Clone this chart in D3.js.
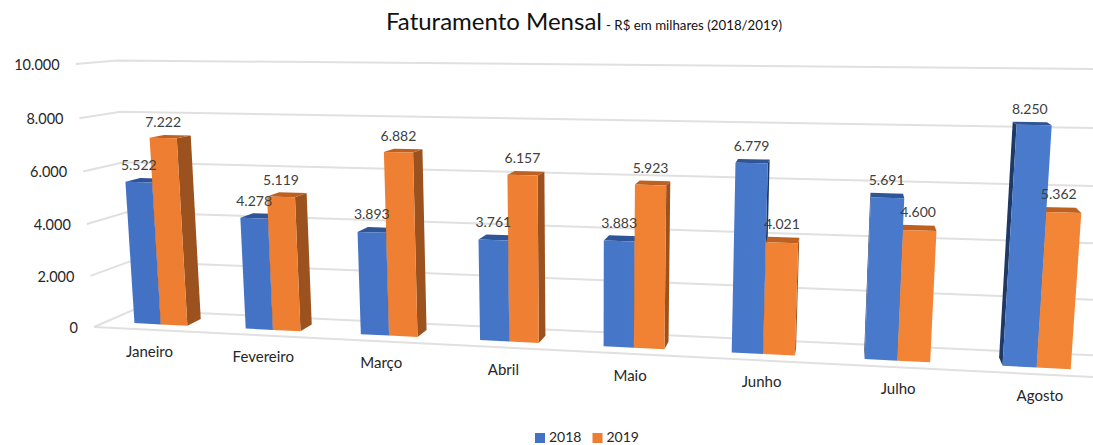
<!DOCTYPE html>
<html>
<head>
<meta charset="utf-8">
<script src="https://cdn.jsdelivr.net/npm/d3@7"></script>
<style>
    html, body { margin: 0; padding: 0; background: #fff; overflow: hidden; }
    svg { display: block; font-family: Lato, sans-serif; }
</style>
</head>
<body>
<div id="chart"></div>
<script>
const categories = ['Janeiro', 'Fevereiro', 'Março', 'Abril', 'Maio', 'Junho', 'Julho', 'Agosto']
const seriesNames = ['2018', '2019']
const values2018 = [5522, 4278, 3893, 3761, 3883, 6779, 5691, 8250]
const values2019 = [7222, 5119, 6882, 6157, 5923, 4021, 4600, 5362]
const yTicks = [0, 2000, 4000, 6000, 8000, 10000]

const width = 1093,
    height = 445

// colours per series: front (left and right of the chart), top, side
const colors = {
    '2018': { left: '#4371C3', right: '#4A7BCD', top: '#2F5597', side: '#1F3864' },
    '2019': { left: '#ED7D31', right: '#F38536', top: '#BE6120', side: '#9C521E' }
}

// the perspective of the 3d box
const origin = [94, 327]          // floor, front left
const vanishX = [-6350, 4]
const vanishY = [590, 7450]
const vanishZ = [850, -3]
const unitX = 1113                // where the front floor line ends (screen x)
const unitY = 64                  // top of the front left edge (screen y)
const unitZ = 133                 // floor, back left (screen x)

const wX = (unitX - origin[0]) / (vanishX[0] - unitX)
const wY = (unitY - origin[1]) / (vanishY[1] - unitY)
const wZ = (unitZ - origin[0]) / (vanishZ[0] - unitZ)

function project(X, Y, Z) {
    const w = 1 + wX * X + wY * Y + wZ * Z
    return [
        (origin[0] + wX * vanishX[0] * X + wY * vanishY[0] * Y + wZ * vanishZ[0] * Z) / w,
        (origin[1] + wX * vanishX[1] * X + wY * vanishY[1] * Y + wZ * vanishZ[1] * Z) / w
    ]
}

const x = d3.scaleBand()
    .domain(categories)
    .range([0, 1])
    .paddingInner(0.52)
    .paddingOuter(0.26)

const xSeries = d3.scaleBand()
    .domain(seriesNames)
    .range([0, x.bandwidth()])

const y = d3.scaleLinear()
    .domain([0, 10000])
    .range([0, 1])

const z = d3.scaleLinear()
    .domain([0, 1])
    .range([0.3, 0.68])

const fmt = d3.formatLocale({ decimal: ',', thousands: '.', grouping: [3], currency: ['R$', ''] }).format(',d')

const svg = d3.select('#chart').append('svg')
    .attr('width', width)
    .attr('height', height)

// the light gets a bit stronger to the right
const defs = svg.append('defs')
const gradient = defs.selectAll('linearGradient')
    .data(seriesNames)
    .join('linearGradient')
    .attr('id', d => `front${d}`)
    .attr('gradientUnits', 'userSpaceOnUse')
    .attr('x1', 100)
    .attr('x2', 1090)
    .attr('y1', 0)
    .attr('y2', 0)
gradient.append('stop').attr('offset', 0).attr('stop-color', d => colors[d].left)
gradient.append('stop').attr('offset', 1).attr('stop-color', d => colors[d].right)

// grid on the walls
const line = d3.line()
const grid = svg.append('g')
    .attr('fill', 'none')
    .attr('stroke', '#E0E0E0')
    .attr('stroke-width', 2)

grid.selectAll('path')
    .data(yTicks)
    .join('path')
    .attr('d', d => line([project(0, y(d), 0), project(0, y(d), 1), project(1, y(d), 1)]))

grid.append('path')
    .attr('d', line([project(0, 0, 0), project(1, 0, 0)]))

// bars
const bars = []
categories.forEach((c, i) => {
    [values2018[i], values2019[i]].forEach((v, j) => {
        const name = seriesNames[j]
        const x0 = x(c) + xSeries(name)
        const x1 = x0 + xSeries.bandwidth()
        bars.push({ c, name, v, x0, x1 })
    })
})

// paint the bars furthest from the vanishing point first
const centerX = d => project((d.x0 + d.x1) / 2, 0, z(0))[0]
bars.sort((a, b) => d3.descending(Math.abs(centerX(a) - vanishZ[0]), Math.abs(centerX(b) - vanishZ[0])))

const face = (pts) => line(pts.map(p => project(p[0], p[1], z(p[2])))) + 'Z'

const bar = svg.append('g').selectAll('g')
    .data(bars)
    .join('g')

bar.append('path')
    .attr('fill', d => colors[d.name].side)
    .attr('d', d => {
        const h = y(d.v)
        const sx = project(d.x1, 0, z(0))[0] < vanishZ[0] ? d.x1 : d.x0
        return face([[sx, 0, 0], [sx, 0, 1], [sx, h, 1], [sx, h, 0]])
    })

bar.append('path')
    .attr('fill', d => colors[d.name].top)
    .attr('d', d => {
        const h = y(d.v)
        return face([[d.x0, h, 0], [d.x1, h, 0], [d.x1, h, 1], [d.x0, h, 1]])
    })

bar.append('path')
    .attr('fill', d => `url(#front${d.name})`)
    .attr('d', d => {
        const h = y(d.v)
        return face([[d.x0, 0, 0], [d.x1, 0, 0], [d.x1, h, 0], [d.x0, h, 0]])
    })

// value labels, over the leftmost end of the bar top
const labelX = d => {
    const mid = (d.x0 + d.x1) / 2
    return Math.min(project(mid, y(d.v), z(0))[0], project(mid, y(d.v), z(1))[0])
}

svg.append('g')
    .attr('font-size', 14)
    .attr('fill', '#404040')
    .attr('text-anchor', 'middle')
    .selectAll('text')
    .data(bars)
    .join('text')
    .attr('x', d => labelX(d))
    .attr('y', d => project((d.x0 + d.x1) / 2, y(d.v), z(1))[1] - 8)
    .text(d => fmt(d.v))

// y axis labels
svg.append('g')
    .attr('font-size', 14.5)
    .attr('fill', '#262626')
    .attr('text-anchor', 'end')
    .selectAll('text')
    .data(yTicks)
    .join('text')
    .attr('x', d => project(0, y(d), 0)[0] - 16)
    .attr('y', d => project(0, y(d), 0)[1] + 6)
    .text(d => fmt(d))

// category labels
svg.append('g')
    .attr('font-size', 15)
    .attr('fill', '#262626')
    .attr('text-anchor', 'middle')
    .selectAll('text')
    .data(categories)
    .join('text')
    .attr('x', d => project(x(d) + x.bandwidth() / 2, 0, 0)[0])
    .attr('y', d => project(x(d) + x.bandwidth() / 2, 0, 0)[1] + 27)
    .text(d => d)

// title
const title = svg.append('text')
    .attr('x', 386)
    .attr('y', 30)
    .attr('fill', '#111')

title.append('tspan')
    .attr('font-size', 24)
    .text('Faturamento Mensal')

title.append('tspan')
    .attr('font-size', 13.3)
    .attr('dx', 4)
    .text('- R$ em milhares (2018/2019)')

// legend
const legendX = d3.scaleBand()
    .domain(seriesNames)
    .range([535, 650])

const legend = svg.append('g')
    .selectAll('g')
    .data(seriesNames)
    .join('g')
    .attr('transform', d => `translate(${legendX(d)},433)`)

legend.append('rect')
    .attr('width', 10)
    .attr('height', 10)
    .attr('fill', d => colors[d].left)

legend.append('text')
    .attr('x', 14)
    .attr('y', 9)
    .attr('font-size', 14)
    .attr('fill', '#262626')
    .text(d => d)
</script>
</body>
</html>
